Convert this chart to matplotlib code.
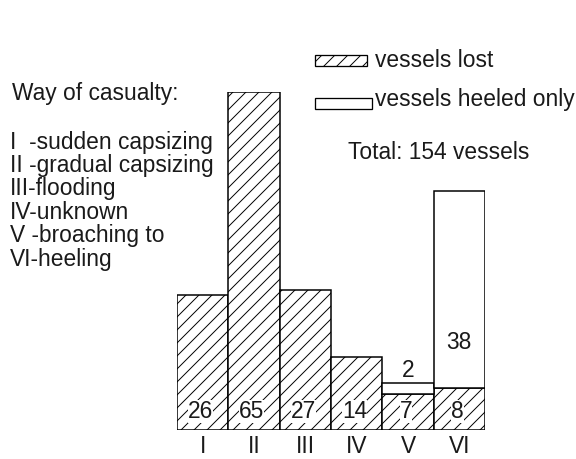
import numpy as np
import matplotlib.pyplot as plt
from matplotlib.patches import Rectangle

# data
categories = ['I', 'II', 'III', 'IV', 'V', 'VI']
lost = [26, 65, 27, 14, 7, 8]
heeled = [0, 0, 0, 0, 2, 38]
legend_lines = ['I  -sudden capsizing', 'II -gradual capsizing', 'III-flooding',
                'IV-unknown', 'V -broaching to', 'VI-heeling']

W, H, DPI = 576, 459, 78
plt.rcParams['font.family'] = ['Liberation Sans', 'DejaVu Sans']
plt.rcParams['hatch.linewidth'] = 0.9
FS = 21
TC = '#1a1a1a'

fig = plt.figure(figsize=(W / DPI, H / DPI), dpi=DPI)
ax = fig.add_axes([177 / W, 29 / H, 308 / W, 338 / H])


def fx(px):
    return px / W


def fy(py):
    return 1 - py / H


x = np.arange(len(categories))
lost = np.array(lost)
heeled = np.array(heeled)

ax.bar(x, lost, width=1.0, color='white', edgecolor='black', linewidth=1.4, hatch='//')
mask = heeled > 0
ax.bar(x[mask], heeled[mask], width=1.0, bottom=lost[mask], color='white',
       edgecolor='black', linewidth=1.4)

# numbers in bars
for xi, v in zip(x, lost):
    ax.annotate(str(v), (xi, 0), xytext=(-2, 11), textcoords='offset points',
                ha='center', va='baseline', fontsize=FS, color=TC,
                bbox=dict(boxstyle='square,pad=0', fc='white', ec='none'))
for xi, lv, hv in zip(x, lost, heeled):
    if hv == 0:
        continue
    if hv < 5:
        ax.annotate(str(hv), (xi, lv + hv), xytext=(0, 6), textcoords='offset points',
                    ha='center', va='baseline', fontsize=FS, color=TC)
    else:
        ax.annotate(str(hv), (xi, lv), xytext=(0, 36), textcoords='offset points',
                    ha='center', va='baseline', fontsize=FS, color=TC)

ax.set_xlim(-0.5, len(categories) - 0.5)
ax.set_ylim(0, max(lost + heeled))
ax.set_xticks(x)
ax.set_xticklabels(categories, fontsize=FS, color=TC)
ax.tick_params(axis='x', length=0, pad=5)
ax.set_yticks([])
for s in ax.spines.values():
    s.set_visible(False)

# left description
fig.text(fx(12), fy(100), 'Way of casualty:', fontsize=FS, color=TC, va='baseline')
for i, line in enumerate(legend_lines):
    fig.text(fx(10), fy(148.5 + i * 23.4), line, fontsize=FS, color=TC, va='baseline')

# legend
fig.patches.append(Rectangle((fx(315), fy(66)), fx(52), 11 / H, transform=fig.transFigure,
                             facecolor='white', edgecolor='black', linewidth=1.2, hatch='//'))
fig.text(fx(375), fy(67), 'vessels lost', fontsize=FS, color=TC, va='baseline')
fig.patches.append(Rectangle((fx(315), fy(109)), fx(57), 11 / H, transform=fig.transFigure,
                             facecolor='white', edgecolor='black', linewidth=1.2))
fig.text(fx(375), fy(106), 'vessels heeled only', fontsize=FS, color=TC, va='baseline')
fig.text(fx(348), fy(159), 'Total: 154 vessels', fontsize=FS, color=TC, va='baseline')

fig.savefig('out.png', dpi=DPI)
